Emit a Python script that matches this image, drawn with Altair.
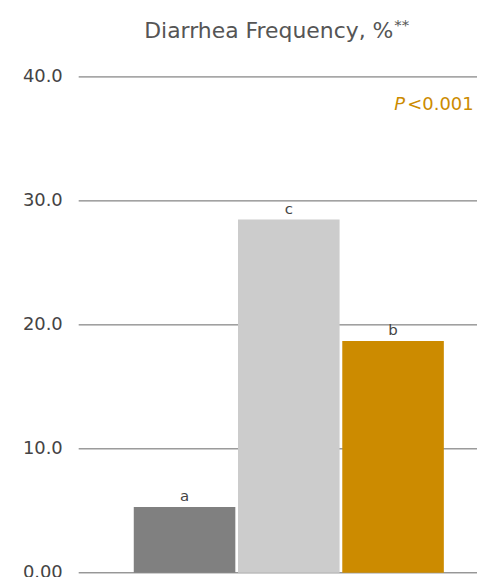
import altair as alt
import pandas as pd

groups = ["A", "C", "B"]
values = [5.3, 28.5, 18.7]
letters = ["a", "c", "b"]
colors = ["#808080", "#CCCCCC", "#CC8B00"]
y_ticks = [0, 10, 20, 30, 40]
tick_labels = ["0.00", "10.0", "20.0", "30.0", "40.0"]

df = pd.DataFrame({"group": groups, "value": values, "letter": letters, "color": colors})
grid_df = pd.DataFrame({"value": y_ticks, "label": tick_labels})

W, H = 400, 498
FONT = "DejaVu Sans"

x = alt.X("group:N", sort=groups, axis=None,
          scale=alt.Scale(range=[55, 367], paddingInner=0.02, paddingOuter=0))
yscale = alt.Scale(domain=[0, 40], nice=False)

grid = alt.Chart(grid_df).mark_rule(color="#666666", strokeWidth=1).encode(
    x=alt.value(0), x2=alt.value(W), y=alt.Y("value:Q", scale=yscale, axis=None)
)
labels = alt.Chart(grid_df).mark_text(align="right", baseline="middle", fontSize=18,
                                      color="#444444", font=FONT).encode(
    x=alt.value(-16), y=alt.Y("value:Q", scale=yscale), text="label:N"
)

bars = alt.Chart(df).mark_bar(size=102).encode(
    x=x, y=alt.Y("value:Q", scale=yscale), color=alt.Color("color:N", scale=None)
)

txt = alt.Chart(df).mark_text(baseline="bottom", dy=-3, fontSize=15, color="#444444", font=FONT).encode(
    x=x, y="value:Q", text="letter:N"
)

title_df = pd.DataFrame({"t": ["Diarrhea Frequency, %"]})
title = alt.Chart(title_df).mark_text(align="right", baseline="middle", fontSize=22,
                                      color="#555555", font=FONT).encode(
    x=alt.value(316), y=alt.value(-46), text="t:N")
stars_df = pd.DataFrame({"t": ["**"]})
stars = alt.Chart(stars_df).mark_text(align="left", baseline="middle", fontSize=15,
                                      color="#555555", font=FONT).encode(
    x=alt.value(317), y=alt.value(-52), text="t:N")

p_df = pd.DataFrame({"t": ["P"]})
ptxt = alt.Chart(p_df).mark_text(align="left", baseline="middle", fontSize=18, fontStyle="italic",
                                 color="#CC8B00", font=FONT).encode(
    x=alt.value(317), y=alt.value(28), text="t:N")
lt_df = pd.DataFrame({"t": ["<0.001"]})
lttxt = alt.Chart(lt_df).mark_text(align="left", baseline="middle", fontSize=18,
                                   color="#CC8B00", font=FONT).encode(
    x=alt.value(330), y=alt.value(28), text="t:N")

chart = alt.layer(grid, labels, bars, txt, title, stars, ptxt, lttxt).properties(
    width=W, height=H,
    autosize=alt.AutoSizeParams(type="none"),
    padding={"left": 71, "top": 68, "right": 0, "bottom": 10},
).configure_view(stroke=None)

chart.save("out.html", embed_options={"renderer": "svg", "actions": False})
